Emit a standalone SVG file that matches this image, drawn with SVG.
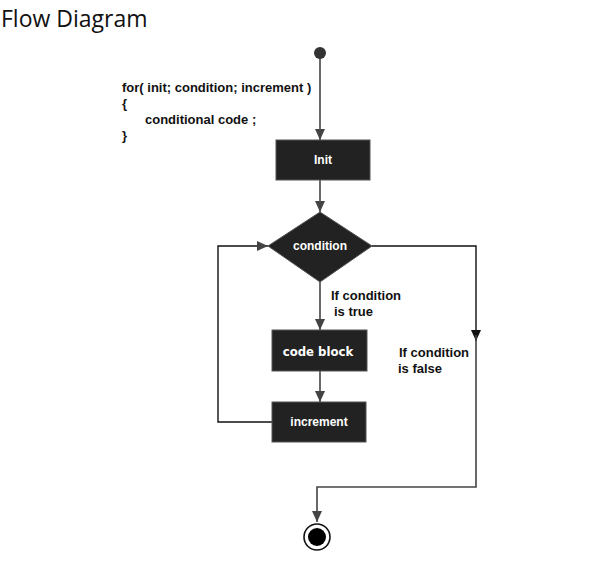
<svg xmlns="http://www.w3.org/2000/svg" width="608" height="562" viewBox="0 0 608 562">
<defs>
<style>
.box{fill:#222222;stroke:#555555;stroke-width:1}
.ln{fill:none;stroke:#444444;stroke-width:1.6}
.lnk{fill:none;stroke:#111111;stroke-width:1.4}
.wt{font-family:"Liberation Sans",Arial,sans-serif;font-weight:bold;font-size:12px;fill:#ffffff;text-anchor:middle}
.lb{font-family:"Liberation Sans",Arial,sans-serif;font-weight:bold;font-size:13px;fill:#111111}
</style>
<marker id="ah" markerWidth="12" markerHeight="12" refX="11" refY="5" orient="auto" markerUnits="userSpaceOnUse">
<path d="M0,0 L11,5 L0,10 Z" fill="#444444"/>
</marker>
<marker id="ahk" markerWidth="12" markerHeight="12" refX="11" refY="5" orient="auto" markerUnits="userSpaceOnUse">
<path d="M0,0 L11,5 L0,10 Z" fill="#111111"/>
</marker>
</defs>
<rect width="608" height="562" fill="#ffffff"/>
<text x="1" y="27" font-family="'Open Sans','Noto Sans',sans-serif" font-size="23" fill="#111111">Flow Diagram</text>
<g id="code" class="lb">
<text x="122" y="92">for( init; condition; increment )</text>
<text x="122" y="108">{</text>
<text x="145" y="124">conditional code ;</text>
<text x="122" y="140">}</text>
</g>
<g id="connectors">
<path class="ln" d="M320,55 V140" marker-end="url(#ah)"/>
<path class="ln" d="M320,180 V212" marker-end="url(#ah)"/>
<path class="ln" d="M320,282 V330" marker-end="url(#ah)"/>
<path class="ln" d="M320,371 V402" marker-end="url(#ah)"/>
<path class="lnk" d="M272,422 H218 V246 H268" marker-end="url(#ah)"/>
<path class="lnk" d="M372,246 H476 V341" marker-end="url(#ahk)"/>
<path class="ln" d="M476,335 V487 H317 V522" marker-end="url(#ah)"/>
</g>
<g id="start"><circle cx="320" cy="53" r="6" fill="#333333"/></g>
<g id="init"><rect class="box" x="276" y="140" width="94" height="40"/><text class="wt" x="323" y="164">Init</text></g>
<g id="condition"><path class="box" d="M320,212 L372,246 L320,282 L268,246 Z"/><text class="wt" x="320" y="250">condition</text></g>
<g id="codeblock"><rect class="box" x="272" y="330" width="95" height="41"/><text class="wt" x="318" y="356" style="font-family:'DejaVu Sans Condensed','DejaVu Sans',sans-serif;font-weight:bold;font-size:13px;font-stretch:condensed">code block</text></g>
<g id="increment"><rect class="box" x="272" y="402" width="94" height="40"/><text class="wt" x="319" y="426">increment</text></g>
<g id="end"><circle cx="317" cy="537" r="13" fill="#ffffff" stroke="#111111" stroke-width="1.6"/><circle cx="317" cy="537" r="9" fill="#000000"/></g>
<g id="labels" class="lb">
<text x="331" y="300">If condition</text>
<text x="334" y="316">is true</text>
<text x="399" y="357">If condition</text>
<text x="398" y="373">is false</text>
</g>
</svg>
